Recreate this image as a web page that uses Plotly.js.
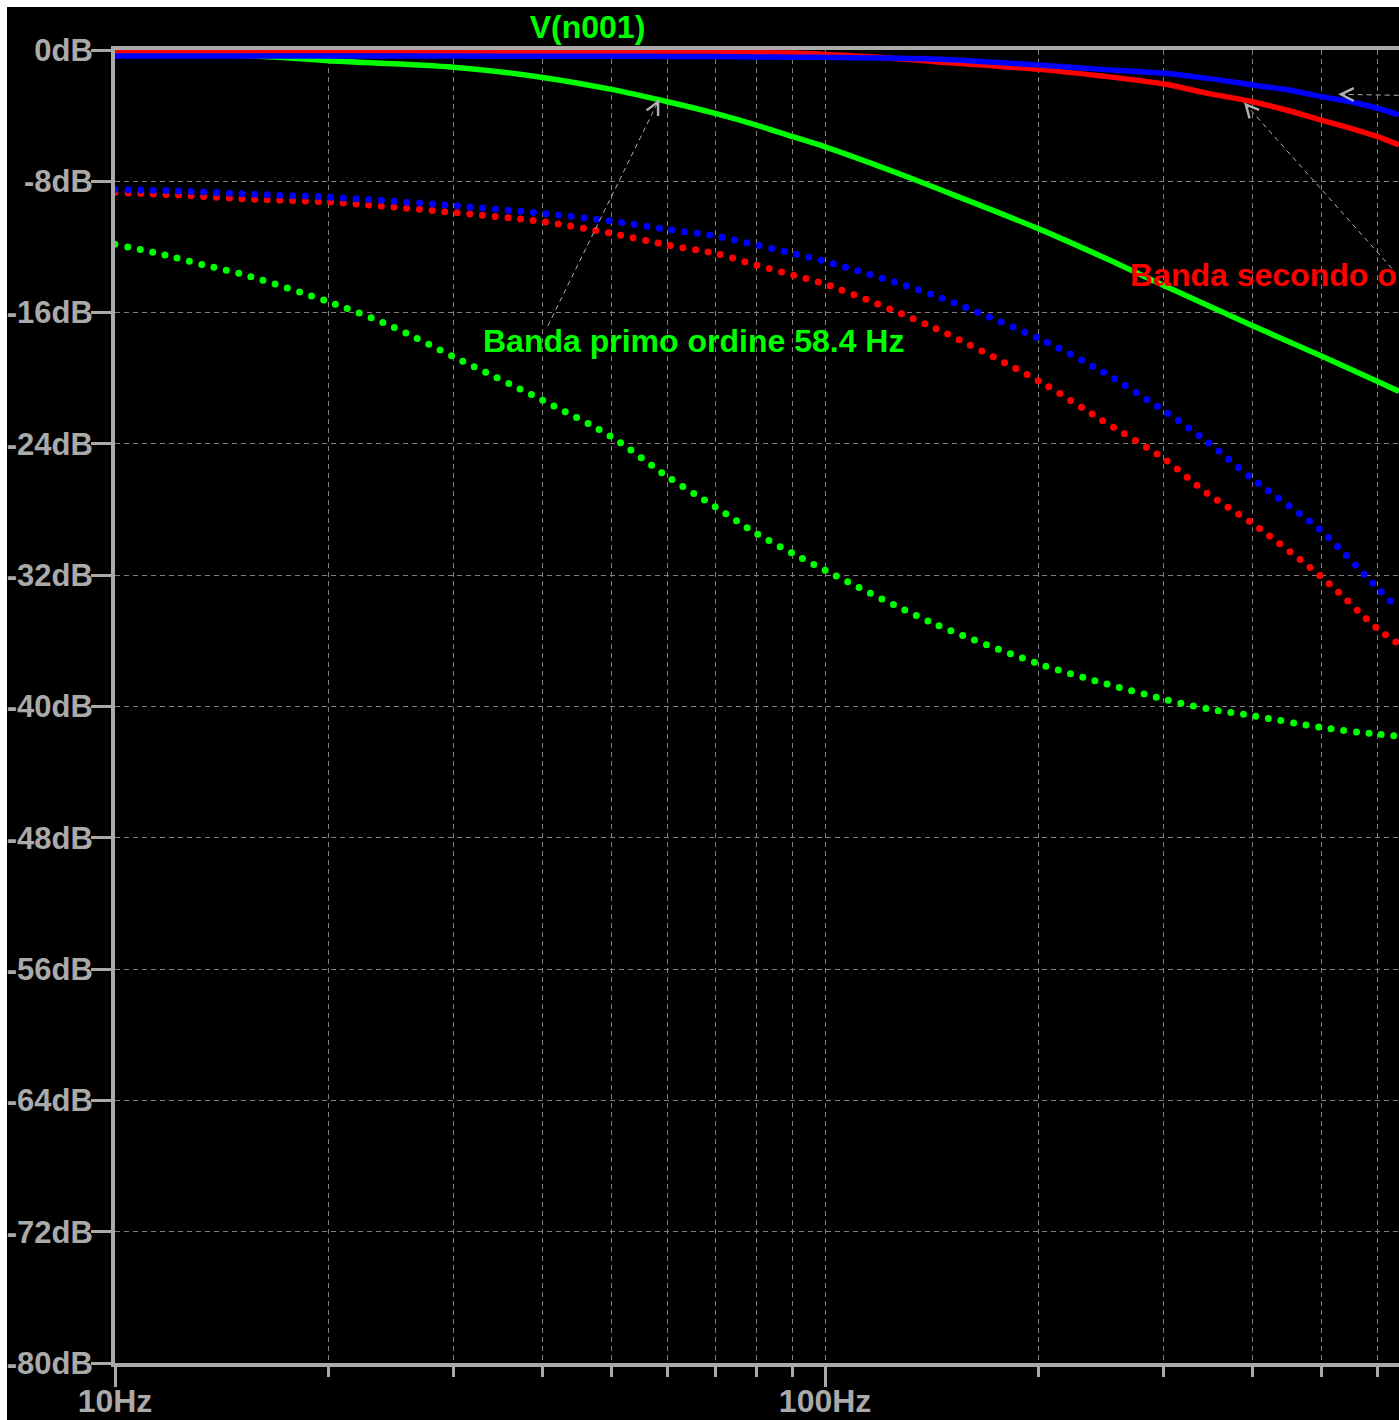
<!DOCTYPE html>
<html>
<head>
<meta charset="utf-8">
<script src="https://cdn.plot.ly/plotly-3.0.1.min.js"></script>
<style>
  html, body { margin: 0; padding: 0; background: #ffffff; }
  #chart { position: absolute; left: 7px; top: 7px; width: 1392px; height: 1413px; }
  .scatterlayer .trace.dotted .js-line { stroke-linecap: round !important; }
  .annotation-arrow-g path { stroke-dasharray: 5px 4px !important; }
</style>
</head>
<body>
<div id="chart"></div>
<script>
// ---------- data ----------
const greenSolidFreq = [10, 15, 17.2, 20, 30, 40, 50, 60, 70, 80, 90, 100, 131, 150, 200, 250, 300, 400, 500, 600, 643];
const greenSolidDb   = [-0.15, -0.33, -0.45, -0.65, -1.05, -1.67, -2.4, -3.15, -3.86, -4.57, -5.28, -5.9, -7.75, -8.75, -10.9, -12.75, -14.35, -16.8, -18.65, -20.2, -20.8];

const redSolidFreq = [10, 20, 30, 40, 50, 60, 70, 80, 90, 100, 120, 142, 200, 245, 300, 346, 400, 450, 500, 550, 600, 643];
const redSolidDb   = [-0.06, -0.06, -0.07, -0.08, -0.1, -0.12, -0.14, -0.16, -0.19, -0.27, -0.45, -0.7, -1.18, -1.58, -2.07, -2.64, -3.15, -3.7, -4.27, -4.77, -5.28, -5.79];

const blueSolidFreq = [10, 20, 30, 40, 50, 60, 70, 80, 90, 100, 142, 200, 245, 300, 346, 400, 450, 500, 550, 600, 643];
const blueSolidDb   = [-0.37, -0.37, -0.37, -0.38, -0.38, -0.39, -0.4, -0.42, -0.44, -0.45, -0.55, -0.91, -1.18, -1.42, -1.73, -2.13, -2.44, -2.84, -3.15, -3.55, -3.96];

const greenDotFreq = [10, 11.8, 13.35, 15.14, 20, 24.6, 30, 40, 50, 60, 70, 80, 90, 100, 142, 200, 245, 300, 346, 400, 500, 600, 643];
const greenDotDb   = [-11.84, -12.5, -13.1, -13.67, -15.34, -16.86, -18.69, -21.33, -23.56, -26.0, -27.83, -29.45, -30.67, -31.7, -34.93, -37.4, -38.54, -39.55, -40.15, -40.56, -41.28, -41.69, -41.8];

const blueDotFreq = [10, 12.3, 15.8, 20, 30, 40, 50, 60, 70, 80, 90, 100, 142, 200, 245, 300, 346, 400, 500, 600, 643];
const blueDotDb   = [-8.49, -8.59, -8.8, -8.96, -9.48, -9.95, -10.42, -10.93, -11.33, -11.88, -12.39, -12.88, -14.92, -17.58, -19.56, -21.97, -23.89, -26.14, -29.3, -32.8, -34.1];

const redDotFreq = [10, 12.3, 15.8, 20, 30, 40, 50, 60, 70, 80, 90, 100, 142, 200, 245, 300, 346, 400, 500, 600, 643];
const redDotDb   = [-8.69, -8.84, -9.1, -9.26, -9.9, -10.46, -11.17, -11.88, -12.39, -13.1, -13.71, -14.26, -16.9, -20.17, -22.54, -24.9, -27.04, -28.85, -32.1, -35.27, -36.2];

const xMajorVals = [10, 100];
const xMajorText = ['10Hz', '100Hz'];
const xMinorVals = [20, 30, 40, 50, 60, 70, 80, 90, 200, 300, 400, 500, 600];
const yTickVals  = [0, -8, -16, -24, -32, -40, -48, -56, -64, -72, -80];
const yTickText  = ['0dB', '-8dB', '-16dB', '-24dB', '-32dB', '-40dB', '-48dB', '-56dB', '-64dB', '-72dB', '-80dB'];
const freqMin = 10, freqMax = 643;

const traceTitle = 'V(n001)';
const label1Text = 'Banda primo ordine 58.4 Hz';
const label1Pos  = [32.8, -17.73];     // [Hz, dB] left edge of text
const label2Text = 'Banda secondo ordine 390 Hz';
const label2Pos  = [267.2, -13.71];
// arrows: [tipHz, tipDb, tailHz, tailDb]
const arrows = [
  [58.4, -3.0, 40.6, -16.9],
  [389, -3.2, 631, -13.4],
  [528, -2.7, 1000, -2.9]
];

// ---------- styling ----------
const GREEN = '#00ff00', RED = '#ff0000', BLUE = '#0000ff';
const FRAME = '#aaaaaa', GRID = '#808080', ARROW = '#b0b0b0';
const FONT = 'Liberation Sans, Arial, sans-serif';

function solid(x, y, c) {
  return { x: x, y: y, type: 'scatter', mode: 'lines', hoverinfo: 'skip',
           line: { color: c, width: 5.5, shape: 'spline', smoothing: 0.8 } };
}
function dotted(x, y, c) {
  return { x: x, y: y, type: 'scatter', mode: 'lines', hoverinfo: 'skip',
           line: { color: c, width: 7, dash: '0px,12.7px', shape: 'spline', smoothing: 0.8 } };
}

const data = [
  solid(greenSolidFreq, greenSolidDb, GREEN),
  dotted(greenDotFreq, greenDotDb, GREEN),
  solid(redSolidFreq, redSolidDb, RED),
  dotted(redDotFreq, redDotDb, RED),
  solid(blueSolidFreq, blueSolidDb, BLUE),
  dotted(blueDotFreq, blueDotDb, BLUE)
];

const annotations = [
  { x: Math.log10(label1Pos[0]), y: label1Pos[1], xref: 'x', yref: 'y', text: label1Text,
    showarrow: false, xanchor: 'left', yanchor: 'middle',
    font: { family: FONT, size: 32, color: GREEN, weight: 700 } },
  { x: Math.log10(label2Pos[0]), y: label2Pos[1], xref: 'x', yref: 'y', text: label2Text,
    showarrow: false, xanchor: 'left', yanchor: 'middle',
    font: { family: FONT, size: 32, color: RED, weight: 700 } }
].concat(arrows.map(a => ({
  x: Math.log10(a[0]), y: a[1], xref: 'x', yref: 'y',
  ax: Math.log10(a[2]), ay: a[3], axref: 'x', ayref: 'y',
  text: '', showarrow: true, arrowhead: 5, arrowsize: 2.5, arrowwidth: 1,
  arrowcolor: ARROW, standoff: 0, startstandoff: 0
})));

const layout = {
  width: 1392, height: 1413,
  margin: { l: 108, r: 0, t: 43, b: 57 },
  paper_bgcolor: '#000000', plot_bgcolor: '#000000',
  showlegend: false,
  title: { text: traceTitle, x: 0.368, xref: 'paper', xanchor: 'center',
           y: 0.986, yref: 'container', yanchor: 'middle',
           font: { family: FONT, size: 32, color: GREEN, weight: 700 } },
  xaxis: {
    type: 'log', range: [Math.log10(freqMin), Math.log10(freqMax)],
    tickmode: 'array', tickvals: xMajorVals, ticktext: xMajorText,
    ticks: 'outside', ticklen: 20, tickwidth: 3, tickcolor: FRAME,
    ticklabelstandoff: -13,
    showline: true, linecolor: FRAME, linewidth: 4, mirror: true,
    showgrid: true, gridcolor: GRID, gridwidth: 1, griddash: '5px,4px',
    zeroline: false, tickfont: { family: FONT, size: 32, color: FRAME, weight: 700 },
    minor: { tickmode: 'array', tickvals: xMinorVals, ticks: 'outside', ticklen: 10,
             tickwidth: 3, tickcolor: FRAME, showgrid: true, gridcolor: GRID,
             gridwidth: 1, griddash: '5px,4px' }
  },
  yaxis: {
    range: [-80, 0], tickmode: 'array', tickvals: yTickVals, ticktext: yTickText,
    ticks: 'outside', ticklen: 20, tickwidth: 3, tickcolor: FRAME,
    ticklabelstandoff: -8,
    showline: true, linecolor: FRAME, linewidth: 4, mirror: false,
    showgrid: true, gridcolor: GRID, gridwidth: 1, griddash: '5px,4px',
    zeroline: false, tickfont: { family: FONT, size: 31, color: FRAME, weight: 700 }
  },
  annotations: annotations
};

Plotly.newPlot('chart', data, layout, { staticPlot: true, displayModeBar: false }).then(gd => {
  const traces = gd.querySelectorAll('.scatterlayer .trace');
  traces.forEach((t, i) => { if (i % 2 === 1) t.classList.add('dotted'); });
});
</script>
</body>
</html>
